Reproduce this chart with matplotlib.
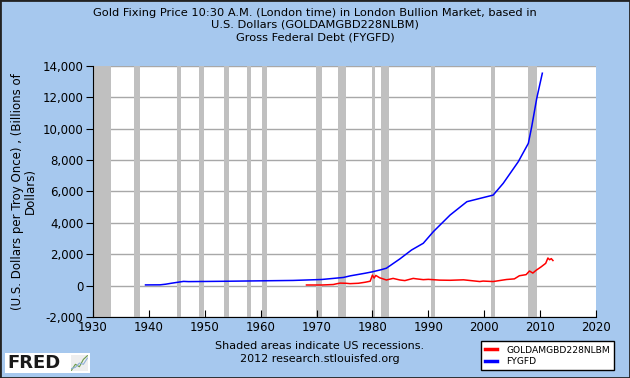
import matplotlib
matplotlib.use("Agg")
import matplotlib.pyplot as plt
from matplotlib.patches import Rectangle
from matplotlib.ticker import FuncFormatter

# gross federal debt (FYGFD), billions of dollars
debt_years = [1939.4, 1942.0, 1943.0, 1944.0, 1946.2, 1947.1, 1953.0, 1965.8, 1970.9, 1973.0,
              1974.8, 1976.0, 1978.7, 1980.0, 1981.4, 1982.5, 1984.9, 1987.0, 1989.1, 1990.9,
              1993.9, 1996.9, 1999.8, 2001.6, 2003.4, 2006.1, 2007.9, 2008.5, 2009.4, 2010.4]
debt_values = [45, 50, 90, 150, 270, 255, 275, 330, 390, 460,
               520, 620, 790, 880, 1000, 1110, 1700, 2270, 2700, 3440,
               4500, 5350, 5610, 5770, 6520, 7900, 9070, 10130, 11940, 13540]

# gold fixing price (GOLDAMGBD228NLBM), dollars per troy ounce
gold_years = [1968.2, 1971.0, 1973.0, 1973.5, 1974.2, 1975.2, 1976.0, 1977.5, 1978.7, 1979.6,
              1980.0, 1980.3, 1980.6, 1981.3, 1982.5, 1983.7, 1984.9, 1985.8, 1987.3, 1987.9,
              1989.1, 1990.0, 1992.0, 1993.9, 1996.3, 1999.2, 1999.8, 2001.6, 2004.0, 2005.4,
              2006.3, 2007.5, 2008.1, 2008.7, 2009.3, 2010.2, 2011.0, 2011.4, 2011.7, 2012.0, 2012.3]
gold_values = [40, 40, 70, 110, 160, 150, 125, 150, 215, 280,
               670, 480, 650, 500, 360, 460, 360, 320, 460, 430,
               380, 400, 350, 340, 370, 260, 290, 260, 390, 430,
               630, 700, 930, 800, 980, 1200, 1420, 1760, 1650, 1720, 1600]

recessions = [(1929.6, 1933.2), (1937.4, 1938.5), (1945.1, 1945.8), (1948.9, 1949.8),
              (1953.5, 1954.4), (1957.6, 1958.3), (1960.3, 1961.1), (1969.9, 1970.9),
              (1973.9, 1975.2), (1980.0, 1980.5), (1981.5, 1982.9), (1990.5, 1991.2),
              (2001.2, 2001.9), (2007.9, 2009.5)]

bg = "#a6c8ee"
plt.rcParams["font.family"] = "DejaVu Sans"

fig = plt.figure(figsize=(6.3, 3.78), dpi=100, facecolor=bg)
ax = fig.add_axes([0.1476, 0.1614, 0.7984, 0.664])
ax.set_facecolor("white")

for start, end in recessions:
    ax.axvspan(max(start, 1930), end, color="#c0c0c0", lw=0, zorder=1)

for y in range(-2000, 14001, 2000):
    ax.axhline(y, color="#a8a8a8", lw=1, zorder=0.5)

ax.plot(gold_years, gold_values, color="#ff0000", lw=1.1, zorder=3, label="GOLDAMGBD228NLBM")
ax.plot(debt_years, debt_values, color="#0000ff", lw=1.1, zorder=3, label="FYGFD")

ax.set_xlim(1930, 2020)
ax.set_ylim(-2000, 14000)
ax.set_xticks(range(1930, 2021, 10))
ax.set_yticks(range(-2000, 14001, 2000))
ax.yaxis.set_major_formatter(FuncFormatter(lambda v, p: f"{int(v):,}"))
ax.tick_params(axis="x", direction="in", length=5, labelsize=8.5, pad=3)
ax.tick_params(axis="y", direction="out", length=5, labelsize=8.5, pad=2)
for s in ["top", "right"]:
    ax.spines[s].set_visible(False)
for s in ["left", "bottom"]:
    ax.spines[s].set_color("black")
    ax.spines[s].set_zorder(4)

ax.set_ylabel("(U.S. Dollars per Troy Once) , (Billions of\nDollars)", fontsize=8.5,
              labelpad=4, linespacing=1.0)

fig.text(0.5, 0.98, "Gold Fixing Price 10:30 A.M. (London time) in London Bullion Market, based in\n"
         "U.S. Dollars (GOLDAMGBD228NLBM)\nGross Federal Debt (FYGFD)",
         ha="center", va="top", fontsize=8.2, linespacing=1.3)

fig.text(0.508, 0.068, "Shaded areas indicate US recessions.\n2012 research.stlouisfed.org",
         ha="center", va="center", fontsize=8, linespacing=1.35)

leg = fig.legend(loc="lower right", bbox_to_anchor=(0.982, 0.008), fontsize=6.6,
                 frameon=True, fancybox=False, edgecolor="black", framealpha=1,
                 handlelength=1.3, handletextpad=1.0, borderpad=0.45, labelspacing=0.3)
leg.get_frame().set_linewidth(1)
for line in leg.get_lines():
    line.set_linewidth(2.5)

# FRED logo
fig.patches.append(Rectangle((0.008, 0.013), 0.135, 0.053, transform=fig.transFigure,
                             facecolor="white", edgecolor="none", zorder=1))
fig.text(0.012, 0.039, "FRED", fontsize=13, fontweight="bold", color="#1a1a1a",
         ha="left", va="center", zorder=3)
logo = fig.add_axes([0.112, 0.018, 0.028, 0.043])
logo.set_zorder(5)
logo.set_facecolor("#eeeeee")
logo.plot([0, 1, 2, 3, 4], [0, 1, 0.6, 1.8, 2.4], color="#6a9a4a", lw=0.8)
logo.plot([0, 1, 2, 3, 4], [0.3, 0.5, 1.2, 1.0, 2.0], color="#8fb0d8", lw=0.8)
logo.set_xticks([])
logo.set_yticks([])
for s in logo.spines.values():
    s.set_visible(False)

# dark border around the whole image
fig.patches.append(Rectangle((0, 0), 1, 1, transform=fig.transFigure, fill=False,
                             edgecolor="#222222", lw=2, zorder=10))

fig.savefig("out.png", dpi=100, facecolor=bg)
